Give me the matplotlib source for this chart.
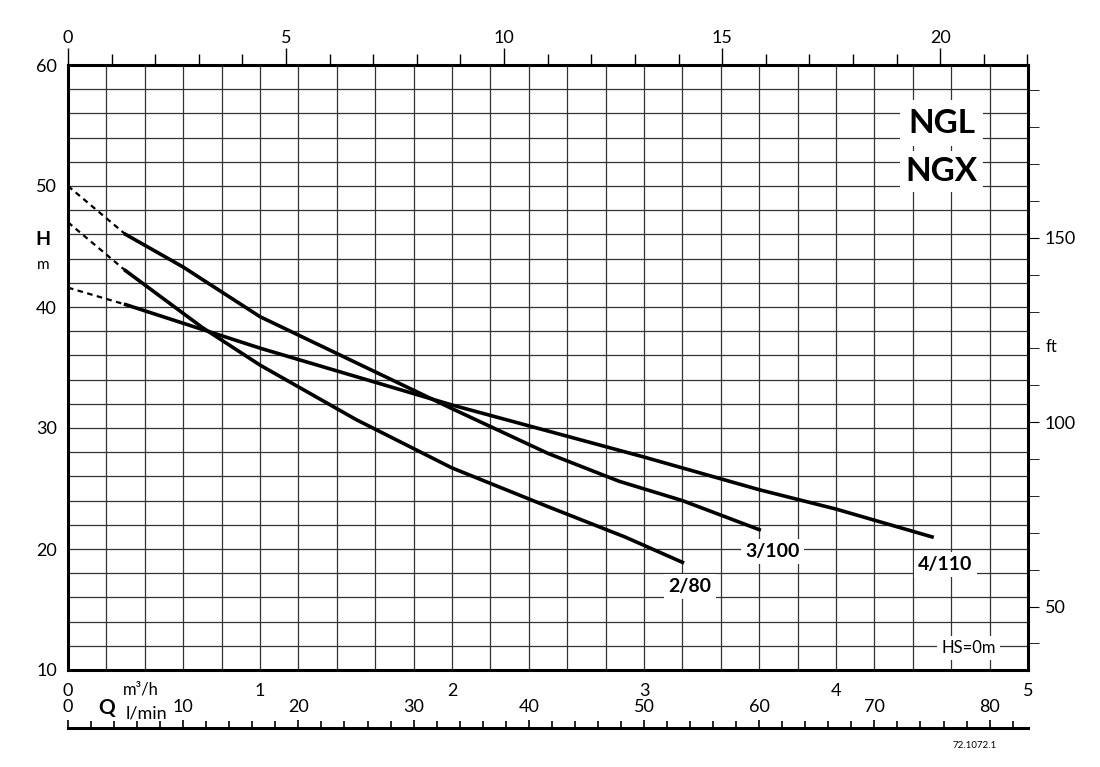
import matplotlib
matplotlib.use("Agg")
import matplotlib.pyplot as plt
import numpy as np

plt.rcParams['font.family'] = ['Lato', 'DejaVu Sans']

# Data (Q in m3/h, H in m)
q_280 = [0.3, 0.7, 1.0, 1.5, 2.0, 2.5, 2.9, 3.2]
h_280 = [43.0, 38.3, 35.2, 30.7, 26.7, 23.5, 21.0, 18.9]
q_3100 = [0.3, 0.6, 1.0, 1.5, 2.0, 2.5, 2.87, 3.2, 3.6]
h_3100 = [46.0, 43.3, 39.2, 35.4, 31.6, 27.9, 25.6, 24.0, 21.6]
q_4110 = [0.3, 1.0, 2.0, 3.0, 3.6, 4.0, 4.5]
h_4110 = [40.2, 36.6, 31.9, 27.6, 24.9, 23.3, 21.0]
dash_q = [0.0, 0.3]
dash_280 = [47.0, 43.0]
dash_3100 = [50.0, 46.0]
dash_4110 = [41.6, 40.2]
labels = ["2/80", "3/100", "4/110"]
label_pos = [(3.24, 16.9), (3.67, 19.8), (4.57, 18.7)]

fig = plt.figure(figsize=(11, 7.67), dpi=100)
ax = fig.add_axes([68/1100, 97/767, 960/1100, 605/767])
ax.set_xlim(0, 5)
ax.set_ylim(10, 60)

for x in np.arange(0.2, 5.0, 0.2):
    ax.axvline(x, color='#333333', lw=0.9, zorder=1)
for y in np.arange(12, 60, 2):
    ax.axhline(y, color='#333333', lw=0.9, zorder=1)

for s in ax.spines.values():
    s.set_linewidth(2.2)

for q, h, dh in [(q_280, h_280, dash_280), (q_3100, h_3100, dash_3100), (q_4110, h_4110, dash_4110)]:
    ax.plot(q, h, color='black', lw=2.6, zorder=3)
    ax.plot(dash_q, dh, color='black', lw=1.6, ls=(0, (2.5, 2)), zorder=3)

for lab, (x, y) in zip(labels, label_pos):
    ax.text(x, y, lab, fontsize=14, fontweight='bold', ha='center', va='center',
            bbox=dict(facecolor='white', edgecolor='none', pad=3), zorder=4)

ax.text(4.55, 55.2, "NGL", fontsize=24, fontweight='bold', ha='center', va='center',
        bbox=dict(facecolor='white', edgecolor='none', pad=6), zorder=4)
ax.text(4.55, 51.2, "NGX", fontsize=24, fontweight='bold', ha='center', va='center',
        bbox=dict(facecolor='white', edgecolor='none', pad=4), zorder=4)
ax.text(4.69, 11.8, "HS=0m", fontsize=12, ha='center', va='center',
        bbox=dict(facecolor='white', edgecolor='none', pad=3), zorder=4)

# left axis
ax.set_yticks([10, 20, 30, 40, 50, 60])
ax.tick_params(axis='y', length=0, labelsize=13, pad=8)
ax.text(-0.13, 45.6, "H", fontsize=14, fontweight='bold', ha='center', va='center')
ax.text(-0.13, 43.5, "m", fontsize=11, ha='center', va='center')

# bottom m3/h axis
ax.set_xticks([0, 1, 2, 3, 4, 5])
ax.tick_params(axis='x', length=0, labelsize=13, pad=9)
ax.text(0.38, 8.4, "m\u00b3/h", fontsize=12, ha='center', va='center', clip_on=False)

# top gpm axis
gpm = 4.40287
top = ax.secondary_xaxis('top', functions=(lambda x: x * gpm, lambda x: x / gpm))
top.set_xticks([0, 5, 10, 15, 20])
top.set_xticks(np.arange(0, 23, 1), minor=True)
top.tick_params(which='major', direction='out', length=12, width=1, labelsize=13, pad=2)
top.tick_params(which='minor', direction='out', length=8, width=1)
top.spines['top'].set_visible(False)

# right ft axis
ft = 3.28084
right = ax.secondary_yaxis('right', functions=(lambda y: y * ft, lambda y: y / ft))
right.set_yticks([50, 100, 150])
right.set_yticks(np.arange(40, 200, 10), minor=True)
right.tick_params(which='major', direction='out', length=8, labelsize=13, pad=4)
right.tick_params(which='minor', direction='out', length=8)
right.spines['right'].set_visible(False)
ax.text(5.12, 36.7, "ft", fontsize=12, ha='center', va='center', clip_on=False)

# bottom l/min axis
lm = 1000 / 60
bot = ax.secondary_xaxis(-0.096, functions=(lambda x: x * lm, lambda x: x / lm))
bot.set_xticks([0, 10, 20, 30, 40, 50, 60, 70, 80])
bot.set_xticks(np.arange(0, 84, 2), minor=True)
bot.tick_params(which='major', direction='in', length=6, width=1.2, labelsize=13, pad=-21)
bot.tick_params(which='minor', direction='in', length=5, width=1.2)
bot.spines['bottom'].set_linewidth(2.2)
ax.text(0.2, 6.9, "Q", fontsize=15, fontweight='bold', ha='center', va='center', clip_on=False)
ax.text(0.41, 6.4, "l/min", fontsize=13, ha='center', va='center', clip_on=False)

fig.text(975/1100, 22/767, "72.1072.1", fontsize=7, ha='center', va='center')

fig.savefig("out.png", dpi=100, facecolor='white')
